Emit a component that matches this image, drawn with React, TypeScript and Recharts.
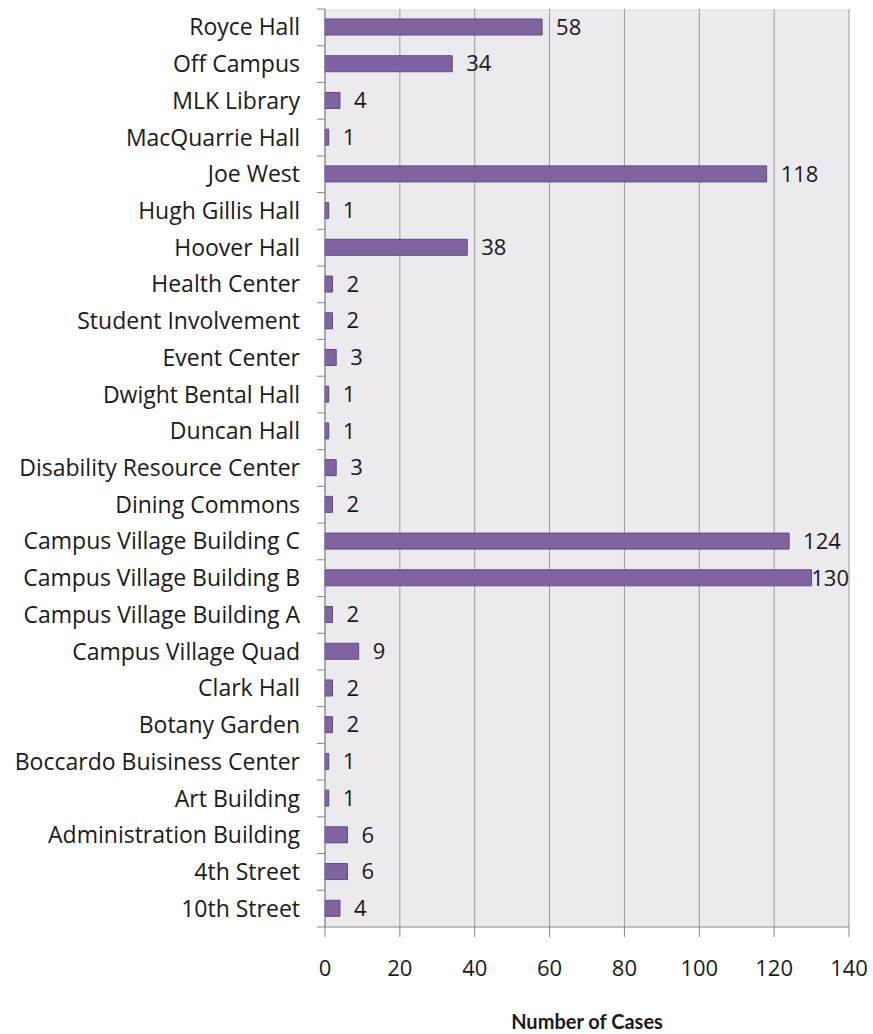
import React from 'react';
import { BarChart, Bar, XAxis, YAxis, CartesianGrid, LabelList } from 'recharts';

const categories = [
  'Royce Hall', 'Off Campus', 'MLK Library', 'MacQuarrie Hall', 'Joe West',
  'Hugh Gillis Hall', 'Hoover Hall', 'Health Center', 'Student Involvement', 'Event Center',
  'Dwight Bental Hall', 'Duncan Hall', 'Disability Resource Center', 'Dining Commons',
  'Campus Village Building C', 'Campus Village Building B', 'Campus Village Building A',
  'Campus Village Quad', 'Clark Hall', 'Botany Garden', 'Boccardo Buisiness Center',
  'Art Building', 'Administration Building', '4th Street', '10th Street',
];
const cases = [58, 34, 4, 1, 118, 1, 38, 2, 2, 3, 1, 1, 3, 2, 124, 130, 2, 9, 2, 2, 1, 1, 6, 6, 4];
const xTicks = [0, 20, 40, 60, 80, 100, 120, 140];
const axisTitle = 'Number of Cases';

const data = categories.map((name, i) => ({ name, value: cases[i] }));

const W = 873;
const H = 1034;
const M_TOP = 9;
const M_RIGHT = 24;
const Y_W = 325;
const X_H = 107;
const PLOT_H = H - M_TOP - X_H;
const PLOT_RIGHT = W - M_RIGHT;
const FONT = '"Open Sans", Lato, sans-serif';
const TITLE_FONT = 'Lato, "Open Sans", sans-serif';
const FS_CAT = 23;
const FS_NUM = 22;
const TEXT = '#1a1a1a';
const AXIS = '#868686';

const YTick = (props: any) => {
  const { x, y, payload, index } = props;
  const band = PLOT_H / categories.length;
  return (
    <g>
      <line x1={x - 8} x2={x} y1={y - band / 2} y2={y - band / 2} stroke={AXIS} />
      {index === categories.length - 1 && (
        <line x1={x - 8} x2={x} y1={y + band / 2} y2={y + band / 2} stroke={AXIS} />
      )}
      <text x={x - 25} y={y} dy="0.35em" textAnchor="end" fill={TEXT} fontSize={FS_CAT} fontFamily={FONT}>
        {payload.value}
      </text>
    </g>
  );
};

const ValueLabel = (props: any) => {
  const { x, y, width, height, value } = props;
  const s = String(value);
  const est = s.length * 13;
  let tx = x + width + 14;
  let anchor: 'start' | 'end' = 'start';
  if (tx + est > PLOT_RIGHT) {
    tx = PLOT_RIGHT;
    anchor = 'end';
  }
  return (
    <text x={tx} y={y + height / 2} dy="0.35em" textAnchor={anchor} fill={TEXT} fontSize={FS_NUM} fontFamily={FONT}>
      {s}
    </text>
  );
};

export default function App() {
  return (
    <div style={{ position: 'absolute', left: 0, top: 0, width: W, height: H, background: '#fff' }}>
      <BarChart
        width={W}
        height={H}
        data={data}
        layout="vertical"
        margin={{ top: M_TOP, right: M_RIGHT, bottom: 0, left: 0 }}
        barCategoryGap={0}
      >
        <CartesianGrid horizontal={false} vertical stroke="#9a9a9a" fill="#ECEAEF" />
        <XAxis
          type="number"
          domain={[0, 140]}
          ticks={xTicks}
          interval={0}
          height={X_H}
          axisLine={{ stroke: AXIS }}
          tickLine={{ stroke: AXIS }}
          tickSize={10}
          tickMargin={23}
          tick={{ fill: TEXT, fontSize: FS_NUM, fontFamily: FONT }}
          label={{
            value: axisTitle,
            position: 'insideBottom',
            offset: 5,
            fill: TEXT,
            fontSize: 20,
            fontWeight: 'bold',
            fontFamily: TITLE_FONT,
          }}
        />
        <YAxis
          type="category"
          dataKey="name"
          width={Y_W}
          interval={0}
          axisLine={{ stroke: AXIS }}
          tickLine={false}
          tickSize={0}
          tickMargin={0}
          tick={<YTick />}
        />
        <Bar dataKey="value" fill="#8064A2" stroke="#5F4A7D" strokeWidth={1} barSize={16} isAnimationActive={false}>
          <LabelList dataKey="value" content={<ValueLabel />} />
        </Bar>
      </BarChart>
    </div>
  );
}
